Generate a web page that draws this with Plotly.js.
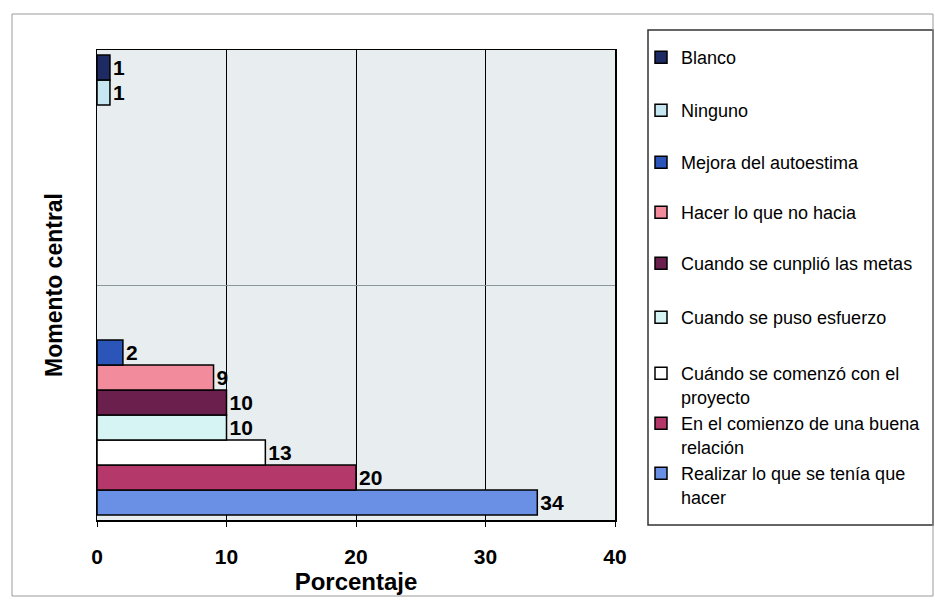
<!DOCTYPE html>
<html>
<head>
<meta charset="utf-8">
<script src="https://cdn.plot.ly/plotly-3.0.1.min.js"></script>
<style>html,body{margin:0;padding:0;background:#fff;}#chart{width:935px;height:603px;}</style>
</head>
<body>
<div id="chart"></div>
<script>
// Series in legend order (top to bottom)
const seriesNames = [
  "Blanco",
  "Ninguno",
  "Mejora del autoestima",
  "Hacer lo que no hacia",
  "Cuando se cunplió las metas",
  "Cuando se puso esfuerzo",
  "Cuándo se comenzó con el<br>proyecto",
  "En el comienzo de una buena<br>relación",
  "Realizar lo que se tenía que<br>hacer"
];
const seriesValues = [1, 1, 2, 9, 10, 10, 13, 20, 34];
// which category row each series belongs to (1 = upper row, 0 = lower row)
const seriesCategory = [1, 1, 0, 0, 0, 0, 0, 0, 0];
const categories = [0, 1];
const seriesColors = ["#1e2a64", "#c6e6f2", "#2b55b8", "#f28c9c", "#6b1f4c", "#d6f4f4", "#ffffff", "#b4386a", "#6a90e6"];
const xTicks = [0, 10, 20, 30, 40];

// legend row positions (pixel centres of first text line in the picture)
const legendRowY = [57, 110, 162, 212, 263, 317, 373, 423, 473];

const W = 935, H = 603;
const M = {l: 97, r: 320, t: 50, b: 83, autoexpand: false};
const pw = W - M.l - M.r, ph = H - M.t - M.b;
const px2x = p => (p - M.l) / pw;
const py2y = p => (H - M.b - p) / ph;

const FONT = "Liberation Sans, Arial, sans-serif";
const traces = [];
const layout = {
  width: W, height: H,
  margin: M,
  paper_bgcolor: "#ffffff",
  plot_bgcolor: "#e8eef0",
  barmode: "group",
  bargap: 0.043,
  bargroupgap: 0,
  showlegend: true,
  xaxis: {
    range: [0, 40], tickvals: xTicks, ticktext: xTicks.map(String),
    showgrid: true, gridcolor: "#000000", gridwidth: 1,
    showline: true, linecolor: "#000000", linewidth: 1.5, mirror: true,
    ticks: "outside", ticklen: 5, tickcolor: "#000000",
    ticklabelstandoff: 12,
    tickfont: {family: FONT, size: 21, color: "#000", weight: "bold"},
    zeroline: false, fixedrange: true,
    title: {text: "Porcentaje", font: {family: FONT, size: 24, color: "#000", weight: "bold"}, standoff: 0}
  },
  yaxis: {
    range: [-0.5, 1.5], tickvals: [0.5], showticklabels: false,
    showgrid: true, gridcolor: "#8a989c", gridwidth: 1,
    showline: true, linecolor: "#000000", linewidth: 1.5, mirror: true,
    ticks: "", zeroline: false, fixedrange: true,
    title: {text: "Momento central", font: {family: FONT, size: 23, color: "#000", weight: "bold"}, standoff: 26}
  },
  shapes: [
    {type: "rect", xref: "paper", yref: "paper", x0: px2x(648), x1: px2x(933), y0: py2y(525), y1: py2y(30),
     line: {color: "#333", width: 1.5}, fillcolor: "rgba(0,0,0,0)", layer: "below"},
    {type: "rect", xref: "paper", yref: "paper", x0: px2x(12), x1: px2x(933), y0: py2y(596), y1: py2y(14),
     line: {color: "#9a9a9a", width: 1}, fillcolor: "rgba(0,0,0,0)", layer: "below"}
  ]
};

// build traces in reverse so the first series sits at the top of each group
for (let k = seriesNames.length - 1; k >= 0; k--) {
  const xs = categories.map(c => c === seriesCategory[k] ? seriesValues[k] : null);
  const lg = k === 0 ? "legend" : "legend" + (k + 1);
  traces.push({
    type: "bar", orientation: "h",
    name: seriesNames[k],
    y: categories, x: xs,
    marker: {color: seriesColors[k], line: {color: "#000000", width: 1.5}},
    text: xs.map(v => v === null ? "" : String(v)),
    textposition: "outside",
    constraintext: "none",
    cliponaxis: false,
    textfont: {family: FONT, size: 21, color: "#000", weight: "bold"},
    hoverinfo: "none",
    legend: lg
  });
  layout[lg] = {
    x: px2x(641), y: py2y(legendRowY[k] - 18), xanchor: "left", yanchor: "top",
    bgcolor: "rgba(0,0,0,0)", borderwidth: 0,
    font: {family: FONT, size: 18, color: "#000"},
    valign: "top", itemwidth: 30
  };
}

Plotly.newPlot("chart", traces, layout, {staticPlot: true, displayModeBar: false});
</script>
</body>
</html>
